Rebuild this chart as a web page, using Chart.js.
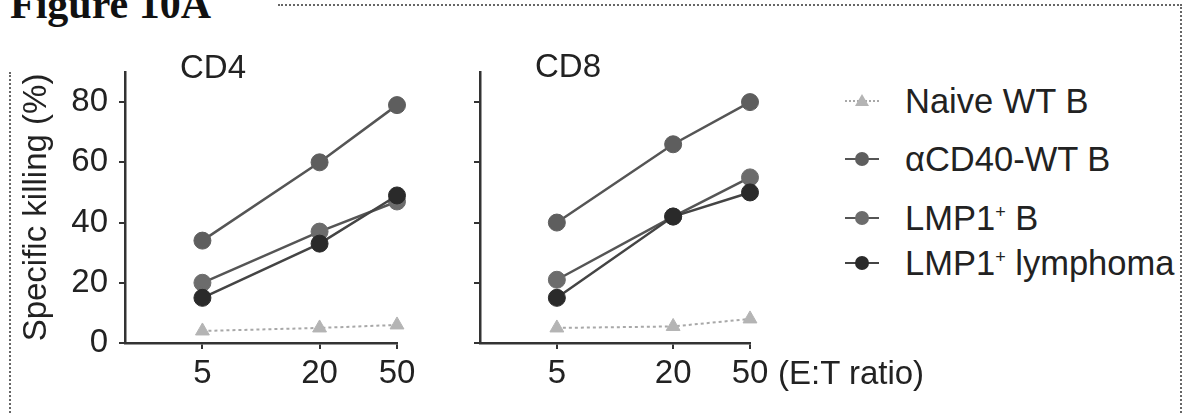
<!DOCTYPE html>
<html>
<head>
<meta charset="utf-8">
<title>Figure 10A</title>
<script src="https://cdn.jsdelivr.net/npm/chart.js@4.4.0/dist/chart.umd.min.js"></script>
<style>
  body { margin: 0; background: #fff; width: 1185px; height: 413px; overflow: hidden; position: relative;
         font-family: "Liberation Sans", Arial, sans-serif; color: #222; }
  .abs { position: absolute; }
  #fig-title { left: 10px; top: -17px; font: bold 42px/1 "Liberation Serif", "Times New Roman", serif; color: #111; }
  .frame-top { left: 278px; top: 4px; width: 904px; border-top: 2px dotted #666; }
  .frame-right { left: 1180px; top: 4px; height: 420px; border-left: 2px dotted #666; }
  .frame-left { left: 9px; top: 72px; height: 360px; border-left: 2px dotted #666; }
  .panel-title { font-size: 33px; line-height: 1; }
  #cd4-title { left: 180px; top: 50px; }
  #cd8-title { left: 535px; top: 49px; }
  #ratio { left: 778px; top: 356px; font-size: 33px; line-height: 1; }
  #legend { left: 845px; top: 0; }
  .leg-row { position: absolute; left: 0; display: flex; align-items: center; height: 40px; white-space: nowrap; }
  .leg-row:nth-child(1) { top: 81px; }
  .leg-row:nth-child(2) { top: 139px; }
  .leg-row:nth-child(3) { top: 198px; }
  .leg-row:nth-child(4) { top: 243px; }
  .leg-row canvas { margin-right: 26px; }
  .leg-row span { font-size: 34.5px; line-height: 1; }
  .leg-row sup { font-size: 18px; vertical-align: 12px; line-height: 0; }
</style>
</head>
<body>
<div id="fig-title" class="abs">Figure 10A</div>
<div class="abs frame-top"></div>
<div class="abs frame-right"></div>
<div class="abs frame-left"></div>

<div class="abs" style="left:0;top:0;"><canvas id="cd4" width="430" height="413"></canvas></div>
<div class="abs" style="left:440px;top:0;"><canvas id="cd8" width="360" height="413"></canvas></div>

<div id="cd4-title" class="abs panel-title">CD4</div>
<div id="cd8-title" class="abs panel-title">CD8</div>
<div id="ratio" class="abs">(E:T ratio)</div>
<div id="legend" class="abs"></div>

<script>
// E:T ratios and tick values
const xValues = [5, 20, 50];
const xTicks = [5, 20, 50];
const yTicks = [0, 20, 40, 60, 80];
const seriesNames = ['Naive WT B', 'αCD40-WT B', 'LMP1+ B', 'LMP1+ lymphoma'];

// Specific killing (%), CD4 T cells
const cd4Naive = [4, 5, 6];
const cd4Cd40 = [34, 60, 79];
const cd4Lmp1B = [20, 37, 47];
const cd4Lymphoma = [15, 33, 49];

// Specific killing (%), CD8 T cells
const cd8Naive = [5, 5.5, 8];
const cd8Cd40 = [40, 66, 80];
const cd8Lmp1B = [21, 42, 55];
const cd8Lymphoma = [15, 42, 50];

const styles = [
  { fill: '#b4b4b4', line: '#a8a8a8', dash: [3, 3], width: 2, point: 'triangle', radius: 8 },
  { fill: '#5e5e5e', line: '#555555', dash: [], width: 2.5, point: 'circle', radius: 8.5 },
  { fill: '#6c6c6c', line: '#555555', dash: [], width: 2.5, point: 'circle', radius: 8.5 },
  { fill: '#2a2a2a', line: '#444444', dash: [], width: 2.5, point: 'circle', radius: 8.5 }
];

Chart.defaults.font.family = '"Liberation Sans", Arial, sans-serif';
Chart.defaults.color = '#222';

function buildPanel(id, series, showLabels, yWidth, padRight) {
  const datasets = series.map((vals, i) => ({
    label: seriesNames[i],
    data: xValues.map((x, j) => ({ x: x, y: vals[j] })),
    borderColor: styles[i].line,
    borderWidth: styles[i].width,
    borderDash: styles[i].dash,
    pointStyle: styles[i].point,
    pointRadius: styles[i].radius,
    pointBackgroundColor: styles[i].fill,
    pointBorderColor: styles[i].fill,
    pointBorderWidth: 1,
    tension: 0,
    clip: false,
    order: series.length - i
  }));

  return new Chart(document.getElementById(id), {
    type: 'line',
    data: { datasets: datasets },
    options: {
      responsive: false,
      animation: false,
      layout: { padding: { top: 72, right: padRight, bottom: 0, left: 0 } },
      plugins: { legend: { display: false }, tooltip: { enabled: false } },
      scales: {
        x: {
          type: 'logarithmic',
          min: 2,
          max: 50,
          afterBuildTicks: s => { s.ticks = xTicks.map(v => ({ value: v })); },
          afterFit: s => { s.height = 70; },
          ticks: { callback: v => String(v), font: { size: 33 }, padding: 5, maxRotation: 0, autoSkip: false },
          grid: { drawOnChartArea: false, tickLength: 6, color: '#333', lineWidth: 2 },
          border: { color: '#333', width: 2.5 }
        },
        y: {
          min: 0,
          max: 90,
          afterBuildTicks: s => { s.ticks = yTicks.map(v => ({ value: v })); },
          afterFit: s => { s.width = yWidth; },
          ticks: { display: showLabels, font: { size: 33 }, padding: 11 },
          title: { display: showLabels, text: 'Specific killing (%)', font: { size: 33 }, padding: { top: 17, bottom: 0 } },
          grid: { drawOnChartArea: false, tickLength: 6, color: '#333', lineWidth: 2 },
          border: { color: '#333', width: 2.5 }
        }
      }
    }
  });
}

const cd4Chart = buildPanel('cd4', [cd4Naive, cd4Cd40, cd4Lmp1B, cd4Lymphoma], true, 125, 33);
const cd8Chart = buildPanel('cd8', [cd8Naive, cd8Cd40, cd8Lmp1B, cd8Lymphoma], false, 40, 50);

// HTML legend built from the CD8 datasets
const legend = document.getElementById('legend');
cd8Chart.data.datasets.forEach(ds => {
  const row = document.createElement('div');
  row.className = 'leg-row';
  const icon = document.createElement('canvas');
  icon.width = 34;
  icon.height = 20;
  const c = icon.getContext('2d');
  c.strokeStyle = ds.borderColor;
  c.lineWidth = 2;
  c.setLineDash(ds.borderDash.length ? [2, 2] : []);
  c.beginPath(); c.moveTo(0, 10); c.lineTo(34, 10); c.stroke();
  c.setLineDash([]);
  c.fillStyle = ds.pointBackgroundColor;
  c.beginPath();
  if (ds.pointStyle === 'triangle') {
    c.moveTo(17, 3); c.lineTo(24, 15); c.lineTo(10, 15); c.closePath();
  } else {
    c.arc(17, 10, 7, 0, Math.PI * 2);
  }
  c.fill();
  const text = document.createElement('span');
  text.innerHTML = ds.label.replace('+', '<sup>+</sup>');
  row.appendChild(icon);
  row.appendChild(text);
  legend.appendChild(row);
});
</script>
</body>
</html>
